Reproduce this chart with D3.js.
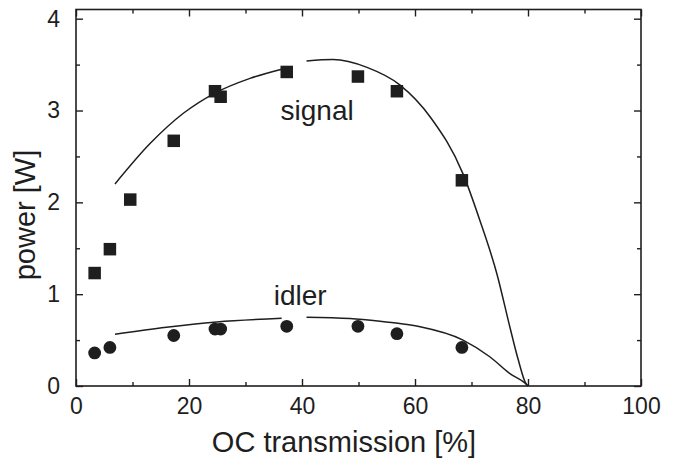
<!DOCTYPE html>
<html>
<head>
<meta charset="utf-8">
<script src="https://cdn.jsdelivr.net/npm/d3@7"></script>
<style>
  html, body { margin: 0; padding: 0; background: #fff; }
  svg { display: block; font-family: "Liberation Sans", Arial, sans-serif; }
</style>
</head>
<body>
<svg id="chart" width="675" height="460"></svg>
<script>
// Measured output power of the signal and idler beams vs. output-coupler transmission
const transmission = [3.3, 6.0, 9.6, 17.3, 24.6, 25.6, 37.3, 49.9, 56.8, 68.3];
const signalPower  = [1.23, 1.49, 2.03, 2.67, 3.21, 3.15, 3.42, 3.37, 3.21, 2.24];
const idlerTransmission = [3.3, 6.0, 17.3, 24.6, 25.6, 37.3, 49.9, 56.8, 68.3];
const idlerPower        = [0.36, 0.42, 0.55, 0.62, 0.62, 0.65, 0.65, 0.57, 0.42];

// Model curves (two pieces each, broken near 37–41 %)
const signalFitA = [[6.9, 2.20], [13.1, 2.64], [19.0, 2.97], [24.6, 3.19], [30.8, 3.35], [36.4, 3.45]];
const signalFitB = [[40.8, 3.54], [45.5, 3.555], [51.5, 3.47], [57.3, 3.28], [62.7, 2.93],
                    [68.5, 2.31], [71.5, 1.80], [74.5, 1.22], [76.8, 0.64], [78.3, 0.28],
                    [79.6, 0.03], [80.0, 0.0]];
const idlerFitA = [[6.9, 0.563], [16.0, 0.64], [24.9, 0.697], [36.4, 0.737]];
const idlerFitB = [[40.8, 0.748], [48.5, 0.734], [53.8, 0.705], [57.3, 0.68], [60.9, 0.645],
                   [68.5, 0.50], [73.3, 0.316], [76.8, 0.135], [79.5, 0.03], [80.0, 0.0]];

const xMajor = [0, 20, 40, 60, 80, 100];
const xMinor = [10, 30, 50, 70, 90];
const yMajor = [0, 1, 2, 3, 4];
const yMinor = [0.5, 1.5, 2.5, 3.5];

const xTitle = "OC transmission [%]";
const yTitle = "power [W]";
const labels = [
  { text: "signal", x: 36.2, y: 2.90 },
  { text: "idler",  x: 35.0, y: 0.88 }
];

const ink = "#1e1e1e";
const svg = d3.select("#chart");
const plotLeft = 76, plotRight = 641, plotTop = 9.5, plotBottom = 386;

const x = d3.scaleLinear().domain([0, 100]).range([plotLeft, plotRight]);
const y = d3.scaleLinear().domain([0, 4.1]).range([plotBottom, plotTop]);

const major = 7, minor = 4;
const intFmt = d3.format("d");

function axisGroup(axis, tx, ty) {
  const g = svg.append("g").attr("transform", `translate(${tx},${ty})`).call(axis);
  g.select(".domain").remove();
  g.selectAll(".tick line").attr("stroke", ink).attr("stroke-width", 1.4);
  return g;
}

// Bottom axis with labels
const gb = axisGroup(d3.axisBottom(x).tickValues(xMajor).tickFormat(intFmt)
  .tickSizeInner(-major).tickSizeOuter(0).tickPadding(12), 0, plotBottom);
gb.selectAll(".tick text").attr("font-size", 23).attr("fill", ink)
  .attr("font-family", "Liberation Sans, Arial, sans-serif");
axisGroup(d3.axisBottom(x).tickValues(xMinor).tickSizeInner(-minor).tickSizeOuter(0).tickFormat(""), 0, plotBottom);
// Top axis (ticks only)
axisGroup(d3.axisTop(x).tickValues(xMajor).tickSizeInner(-major).tickSizeOuter(0).tickFormat(""), 0, plotTop);
axisGroup(d3.axisTop(x).tickValues(xMinor).tickSizeInner(-minor).tickSizeOuter(0).tickFormat(""), 0, plotTop);

// Left axis with labels
const gl = axisGroup(d3.axisLeft(y).tickValues(yMajor).tickFormat(intFmt)
  .tickSizeInner(-major).tickSizeOuter(0).tickPadding(16), plotLeft, 0);
gl.selectAll(".tick text").attr("font-size", 23).attr("fill", ink)
  .attr("font-family", "Liberation Sans, Arial, sans-serif");
axisGroup(d3.axisLeft(y).tickValues(yMinor).tickSizeInner(-minor).tickSizeOuter(0).tickFormat(""), plotLeft, 0);
// Right axis (ticks only)
axisGroup(d3.axisRight(y).tickValues(yMajor).tickSizeInner(-major).tickSizeOuter(0).tickFormat(""), plotRight, 0);
axisGroup(d3.axisRight(y).tickValues(yMinor).tickSizeInner(-minor).tickSizeOuter(0).tickFormat(""), plotRight, 0);

// Frame
svg.append("rect")
  .attr("x", plotLeft).attr("y", plotTop)
  .attr("width", plotRight - plotLeft).attr("height", plotBottom - plotTop)
  .attr("fill", "none").attr("stroke", ink).attr("stroke-width", 1.6);

// Fit curves
const line = d3.line().x(d => x(d[0])).y(d => y(d[1])).curve(d3.curveMonotoneX);
[signalFitA, signalFitB, idlerFitA, idlerFitB].forEach(seg => {
  svg.append("path").datum(seg).attr("d", line)
    .attr("fill", "none").attr("stroke", ink).attr("stroke-width", 1.5);
});

// Signal: filled squares
const side = 12.5;
svg.append("g").selectAll("rect")
  .data(transmission.map((t, i) => [t, signalPower[i]]))
  .join("rect")
  .attr("x", d => x(d[0]) - side / 2)
  .attr("y", d => y(d[1]) - side / 2)
  .attr("width", side).attr("height", side)
  .attr("fill", ink);

// Idler: filled circles
svg.append("g").selectAll("circle")
  .data(idlerTransmission.map((t, i) => [t, idlerPower[i]]))
  .join("circle")
  .attr("cx", d => x(d[0]))
  .attr("cy", d => y(d[1]))
  .attr("r", 6.4)
  .attr("fill", ink);

// Curve labels
svg.append("g").selectAll("text")
  .data(labels)
  .join("text")
  .attr("x", d => x(d.x)).attr("y", d => y(d.y))
  .attr("font-size", 28).attr("fill", ink)
  .text(d => d.text);

// Axis titles
svg.append("text")
  .attr("x", 344).attr("y", 452)
  .attr("text-anchor", "middle")
  .attr("font-size", 29).attr("fill", ink)
  .text(xTitle);

svg.append("text")
  .attr("transform", "translate(35,215) rotate(-90)")
  .attr("text-anchor", "middle")
  .attr("font-size", 29).attr("fill", ink)
  .text(yTitle);
</script>
</body>
</html>
